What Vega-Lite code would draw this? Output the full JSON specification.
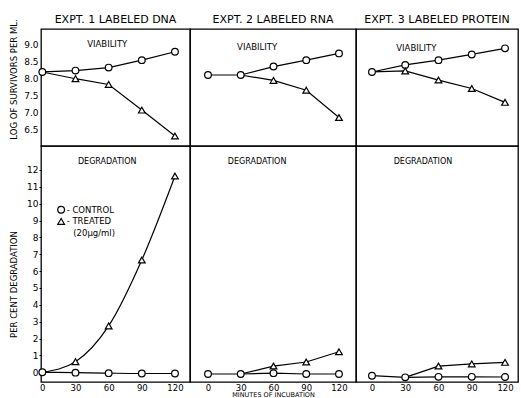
{
  "$schema": "https://vega.github.io/schema/vega-lite/v6.json",
  "padding": {"left": 8, "top": 10, "right": 2, "bottom": 0},
  "background": "white",
  "config": {
    "font": "DejaVu Sans",
    "view": {"stroke": "black", "strokeWidth": 1.3},
    "axis": {"domain": false, "grid": false, "labelColor": "black", "titleColor": "black", "tickColor": "black", "labelFontSize": 9, "titleFontSize": 8.5, "titleFontWeight": "normal", "labelFont": "DejaVu Sans", "titleFont": "DejaVu Sans"}
  },
  "datasets": {
    "rows": [
      {"kind": "head", "expt": 1, "text": "EXPT. 1 LABELED DNA"},
      {"kind": "head", "expt": 2, "text": "EXPT. 2 LABELED RNA"},
      {"kind": "head", "expt": 3, "text": "EXPT. 3 LABELED PROTEIN"},

      {"kind": "d", "expt": 1, "panel": "v", "series": "Control", "min": 0, "val": 8.2, "mk": true},
      {"kind": "d", "expt": 1, "panel": "v", "series": "Control", "min": 30, "val": 8.24, "mk": true},
      {"kind": "d", "expt": 1, "panel": "v", "series": "Control", "min": 60, "val": 8.33, "mk": true},
      {"kind": "d", "expt": 1, "panel": "v", "series": "Control", "min": 90, "val": 8.55, "mk": true},
      {"kind": "d", "expt": 1, "panel": "v", "series": "Control", "min": 120, "val": 8.8, "mk": true},
      {"kind": "d", "expt": 1, "panel": "v", "series": "Treated", "min": 0, "val": 8.2, "mk": false},
      {"kind": "d", "expt": 1, "panel": "v", "series": "Treated", "min": 30, "val": 8.0, "mk": true},
      {"kind": "d", "expt": 1, "panel": "v", "series": "Treated", "min": 60, "val": 7.83, "mk": true},
      {"kind": "d", "expt": 1, "panel": "v", "series": "Treated", "min": 90, "val": 7.07, "mk": true},
      {"kind": "d", "expt": 1, "panel": "v", "series": "Treated", "min": 120, "val": 6.3, "mk": true},

      {"kind": "d", "expt": 2, "panel": "v", "series": "Control", "min": 0, "val": 8.11, "mk": true},
      {"kind": "d", "expt": 2, "panel": "v", "series": "Control", "min": 30, "val": 8.11, "mk": true},
      {"kind": "d", "expt": 2, "panel": "v", "series": "Control", "min": 60, "val": 8.36, "mk": true},
      {"kind": "d", "expt": 2, "panel": "v", "series": "Control", "min": 90, "val": 8.55, "mk": true},
      {"kind": "d", "expt": 2, "panel": "v", "series": "Control", "min": 120, "val": 8.75, "mk": true},
      {"kind": "d", "expt": 2, "panel": "v", "series": "Treated", "min": 30, "val": 8.11, "mk": false},
      {"kind": "d", "expt": 2, "panel": "v", "series": "Treated", "min": 60, "val": 7.95, "mk": true},
      {"kind": "d", "expt": 2, "panel": "v", "series": "Treated", "min": 90, "val": 7.66, "mk": true},
      {"kind": "d", "expt": 2, "panel": "v", "series": "Treated", "min": 120, "val": 6.85, "mk": true},

      {"kind": "d", "expt": 3, "panel": "v", "series": "Control", "min": 0, "val": 8.2, "mk": true},
      {"kind": "d", "expt": 3, "panel": "v", "series": "Control", "min": 30, "val": 8.41, "mk": true},
      {"kind": "d", "expt": 3, "panel": "v", "series": "Control", "min": 60, "val": 8.55, "mk": true},
      {"kind": "d", "expt": 3, "panel": "v", "series": "Control", "min": 90, "val": 8.72, "mk": true},
      {"kind": "d", "expt": 3, "panel": "v", "series": "Control", "min": 120, "val": 8.9, "mk": true},
      {"kind": "d", "expt": 3, "panel": "v", "series": "Treated", "min": 0, "val": 8.2, "mk": false},
      {"kind": "d", "expt": 3, "panel": "v", "series": "Treated", "min": 30, "val": 8.23, "mk": true},
      {"kind": "d", "expt": 3, "panel": "v", "series": "Treated", "min": 60, "val": 7.96, "mk": true},
      {"kind": "d", "expt": 3, "panel": "v", "series": "Treated", "min": 90, "val": 7.71, "mk": true},
      {"kind": "d", "expt": 3, "panel": "v", "series": "Treated", "min": 120, "val": 7.3, "mk": true},

      {"kind": "d", "expt": 1, "panel": "d", "series": "Control", "min": 0, "val": 0.0, "mk": true},
      {"kind": "d", "expt": 1, "panel": "d", "series": "Control", "min": 30, "val": -0.02, "mk": true},
      {"kind": "d", "expt": 1, "panel": "d", "series": "Control", "min": 60, "val": -0.05, "mk": true},
      {"kind": "d", "expt": 1, "panel": "d", "series": "Control", "min": 90, "val": -0.07, "mk": true},
      {"kind": "d", "expt": 1, "panel": "d", "series": "Control", "min": 120, "val": -0.07, "mk": true},
      {"kind": "d", "expt": 1, "panel": "d", "series": "Treated", "min": 0, "val": 0.0, "mk": false},
      {"kind": "d", "expt": 1, "panel": "d", "series": "Treated", "min": 30, "val": 0.63, "mk": true},
      {"kind": "d", "expt": 1, "panel": "d", "series": "Treated", "min": 60, "val": 2.75, "mk": true},
      {"kind": "d", "expt": 1, "panel": "d", "series": "Treated", "min": 90, "val": 6.66, "mk": true},
      {"kind": "d", "expt": 1, "panel": "d", "series": "Treated", "min": 120, "val": 11.64, "mk": true},

      {"kind": "d", "expt": 2, "panel": "d", "series": "Control", "min": 0, "val": -0.1, "mk": true},
      {"kind": "d", "expt": 2, "panel": "d", "series": "Control", "min": 30, "val": -0.1, "mk": true},
      {"kind": "d", "expt": 2, "panel": "d", "series": "Control", "min": 60, "val": -0.05, "mk": true},
      {"kind": "d", "expt": 2, "panel": "d", "series": "Control", "min": 90, "val": -0.1, "mk": true},
      {"kind": "d", "expt": 2, "panel": "d", "series": "Control", "min": 120, "val": -0.1, "mk": true},
      {"kind": "d", "expt": 2, "panel": "d", "series": "Treated", "min": 30, "val": -0.1, "mk": false},
      {"kind": "d", "expt": 2, "panel": "d", "series": "Treated", "min": 60, "val": 0.37, "mk": true},
      {"kind": "d", "expt": 2, "panel": "d", "series": "Treated", "min": 90, "val": 0.61, "mk": true},
      {"kind": "d", "expt": 2, "panel": "d", "series": "Treated", "min": 120, "val": 1.22, "mk": true},

      {"kind": "d", "expt": 3, "panel": "d", "series": "Control", "min": 0, "val": -0.2, "mk": true},
      {"kind": "d", "expt": 3, "panel": "d", "series": "Control", "min": 30, "val": -0.3, "mk": true},
      {"kind": "d", "expt": 3, "panel": "d", "series": "Control", "min": 60, "val": -0.27, "mk": true},
      {"kind": "d", "expt": 3, "panel": "d", "series": "Control", "min": 90, "val": -0.27, "mk": true},
      {"kind": "d", "expt": 3, "panel": "d", "series": "Control", "min": 120, "val": -0.28, "mk": true},
      {"kind": "d", "expt": 3, "panel": "d", "series": "Treated", "min": 30, "val": -0.3, "mk": false},
      {"kind": "d", "expt": 3, "panel": "d", "series": "Treated", "min": 60, "val": 0.37, "mk": true},
      {"kind": "d", "expt": 3, "panel": "d", "series": "Treated", "min": 90, "val": 0.5, "mk": true},
      {"kind": "d", "expt": 3, "panel": "d", "series": "Treated", "min": 120, "val": 0.59, "mk": true},

      {"kind": "lab", "expt": 1, "panel": "v", "min": 58.7, "val": 9.03, "text": "VIABILITY"},
      {"kind": "lab", "expt": 2, "panel": "v", "min": 45, "val": 8.95, "text": "VIABILITY"},
      {"kind": "lab", "expt": 3, "panel": "v", "min": 40, "val": 8.9, "text": "VIABILITY"},
      {"kind": "lab", "expt": 1, "panel": "d", "min": 58.7, "val": 12.47, "text": "DEGRADATION"},
      {"kind": "lab", "expt": 2, "panel": "d", "min": 45, "val": 12.47, "text": "DEGRADATION"},
      {"kind": "lab", "expt": 3, "panel": "d", "min": 46, "val": 12.45, "text": "DEGRADATION"},

      {"kind": "leg", "expt": 1, "panel": "d", "series": "Control", "min": 17, "val": 9.64, "mk": true},
      {"kind": "leg", "expt": 1, "panel": "d", "series": "Treated", "min": 17, "val": 8.95, "mk": true},
      {"kind": "legt", "expt": 1, "panel": "d", "min": 22, "val": 9.64, "text": "- CONTROL"},
      {"kind": "legt", "expt": 1, "panel": "d", "min": 22, "val": 8.95, "text": "- TREATED"},
      {"kind": "legt", "expt": 1, "panel": "d", "min": 28, "val": 8.26, "text": "(20µg/ml)"}
    ]
  },
  "columns": 3,
  "align": "each",
  "bounds": "flush",
  "spacing": 0,
  "concat": [
    {"width": 149, "height": 19, "data": {"name": "rows"}, "transform": [{"filter": "datum.kind=='head' && datum.expt==1"}], "mark": {"type": "text", "fontSize": 11, "align": "center", "baseline": "middle"}, "encoding": {"text": {"field": "text"}}},
    {"width": 166, "height": 19, "data": {"name": "rows"}, "transform": [{"filter": "datum.kind=='head' && datum.expt==2"}], "mark": {"type": "text", "fontSize": 11, "align": "center", "baseline": "middle"}, "encoding": {"text": {"field": "text"}}},
    {"width": 162, "height": 19, "data": {"name": "rows"}, "transform": [{"filter": "datum.kind=='head' && datum.expt==3"}], "mark": {"type": "text", "fontSize": 11, "align": "center", "baseline": "middle"}, "encoding": {"text": {"field": "text"}}},

    {"width": 149, "height": 117, "data": {"name": "rows"}, "transform": [{"filter": "datum.expt==1 && datum.panel=='v'"}],
     "encoding": {
       "x": {"field": "min", "type": "quantitative", "scale": {"domain": [-1.2, 133.6], "nice": false, "zero": false}, "axis": null},
       "y": {"field": "val", "type": "quantitative", "scale": {"domain": [6.005, 9.474], "nice": false, "zero": false}, "axis": {"title": "LOG OF SURVIVORS PER ML.", "values": [6.5, 7, 7.5, 8, 8.5, 9], "format": ".1f", "tickSize": 0, "labelPadding": 3, "titleX": -23, "titleY": 50}}
     },
     "layer": [
       {"transform": [{"filter": "datum.kind=='d'"}], "mark": {"type": "line", "color": "black", "strokeWidth": 1.2}, "encoding": {"detail": {"field": "series"}}},
       {"transform": [{"filter": "datum.mk"}], "mark": {"type": "point", "filled": true, "fill": "white", "stroke": "black", "strokeWidth": 1.2, "size": 45, "opacity": 1}, "encoding": {"shape": {"field": "series", "scale": {"domain": ["Control", "Treated"], "range": ["circle", "triangle-up"]}, "legend": null}}},
       {"transform": [{"filter": "datum.kind=='lab'"}], "mark": {"type": "text", "fontSize": 8.5, "align": "center", "baseline": "middle"}, "encoding": {"text": {"field": "text"}}}
     ]},
    {"width": 166, "height": 117, "data": {"name": "rows"}, "transform": [{"filter": "datum.expt==2 && datum.panel=='v'"}],
     "encoding": {
       "x": {"field": "min", "type": "quantitative", "scale": {"domain": [-16.5, 135.6], "nice": false, "zero": false}, "axis": null},
       "y": {"field": "val", "type": "quantitative", "scale": {"domain": [6.005, 9.474], "nice": false, "zero": false}, "axis": null}
     },
     "layer": [
       {"transform": [{"filter": "datum.kind=='d'"}], "mark": {"type": "line", "color": "black", "strokeWidth": 1.2}, "encoding": {"detail": {"field": "series"}}},
       {"transform": [{"filter": "datum.mk"}], "mark": {"type": "point", "filled": true, "fill": "white", "stroke": "black", "strokeWidth": 1.2, "size": 45, "opacity": 1}, "encoding": {"shape": {"field": "series", "scale": {"domain": ["Control", "Treated"], "range": ["circle", "triangle-up"]}, "legend": null}}},
       {"transform": [{"filter": "datum.kind=='lab'"}], "mark": {"type": "text", "fontSize": 8.5, "align": "center", "baseline": "middle"}, "encoding": {"text": {"field": "text"}}}
     ]},
    {"width": 162, "height": 117, "data": {"name": "rows"}, "transform": [{"filter": "datum.expt==3 && datum.panel=='v'"}],
     "encoding": {
       "x": {"field": "min", "type": "quantitative", "scale": {"domain": [-14.4, 131.7], "nice": false, "zero": false}, "axis": null},
       "y": {"field": "val", "type": "quantitative", "scale": {"domain": [6.005, 9.474], "nice": false, "zero": false}, "axis": null}
     },
     "layer": [
       {"transform": [{"filter": "datum.kind=='d'"}], "mark": {"type": "line", "color": "black", "strokeWidth": 1.2}, "encoding": {"detail": {"field": "series"}}},
       {"transform": [{"filter": "datum.mk"}], "mark": {"type": "point", "filled": true, "fill": "white", "stroke": "black", "strokeWidth": 1.2, "size": 45, "opacity": 1}, "encoding": {"shape": {"field": "series", "scale": {"domain": ["Control", "Treated"], "range": ["circle", "triangle-up"]}, "legend": null}}},
       {"transform": [{"filter": "datum.kind=='lab'"}], "mark": {"type": "text", "fontSize": 8.5, "align": "center", "baseline": "middle"}, "encoding": {"text": {"field": "text"}}}
     ]},

    {"width": 149, "height": 236, "data": {"name": "rows"}, "transform": [{"filter": "datum.expt==1 && datum.panel=='d'"}],
     "encoding": {
       "x": {"field": "min", "type": "quantitative", "scale": {"domain": [-1.2, 133.6], "nice": false, "zero": false}, "axis": {"title": null, "values": [0, 30, 60, 90, 120], "tickSize": 0, "labelPadding": 1, "labelFontSize": 8.5}},
       "y": {"field": "val", "type": "quantitative", "scale": {"domain": [-0.575, 13.42], "nice": false, "zero": false}, "axis": {"title": "PER CENT DEGRADATION", "values": [0, 1, 2, 3, 4, 5, 6, 7, 8, 9, 10, 11, 12], "tickSize": 2, "labelPadding": 1, "titleX": -23, "titleY": 138}}
     },
     "layer": [
       {"transform": [{"filter": "datum.kind=='d'"}], "mark": {"type": "line", "color": "black", "strokeWidth": 1.2, "interpolate": "monotone"}, "encoding": {"detail": {"field": "series"}}},
       {"transform": [{"filter": "datum.mk"}], "mark": {"type": "point", "filled": true, "fill": "white", "stroke": "black", "strokeWidth": 1.2, "size": 45, "opacity": 1}, "encoding": {"shape": {"field": "series", "scale": {"domain": ["Control", "Treated"], "range": ["circle", "triangle-up"]}, "legend": null}}},
       {"transform": [{"filter": "datum.kind=='lab'"}], "mark": {"type": "text", "fontSize": 8, "align": "center", "baseline": "middle"}, "encoding": {"text": {"field": "text"}}},
       {"transform": [{"filter": "datum.kind=='legt'"}], "mark": {"type": "text", "fontSize": 8.5, "align": "left", "baseline": "middle"}, "encoding": {"text": {"field": "text"}}}
     ]},
    {"width": 166, "height": 236, "data": {"name": "rows"}, "transform": [{"filter": "datum.expt==2 && datum.panel=='d'"}],
     "encoding": {
       "x": {"field": "min", "type": "quantitative", "scale": {"domain": [-16.5, 135.6], "nice": false, "zero": false}, "axis": {"title": "MINUTES OF INCUBATION", "titleFontSize": 6.5, "values": [0, 30, 60, 90, 120], "tickSize": 0, "labelPadding": 1, "labelFontSize": 8.5, "titlePadding": 0}},
       "y": {"field": "val", "type": "quantitative", "scale": {"domain": [-0.575, 13.42], "nice": false, "zero": false}, "axis": null}
     },
     "layer": [
       {"transform": [{"filter": "datum.kind=='d'"}], "mark": {"type": "line", "color": "black", "strokeWidth": 1.2}, "encoding": {"detail": {"field": "series"}}},
       {"transform": [{"filter": "datum.mk"}], "mark": {"type": "point", "filled": true, "fill": "white", "stroke": "black", "strokeWidth": 1.2, "size": 45, "opacity": 1}, "encoding": {"shape": {"field": "series", "scale": {"domain": ["Control", "Treated"], "range": ["circle", "triangle-up"]}, "legend": null}}},
       {"transform": [{"filter": "datum.kind=='lab'"}], "mark": {"type": "text", "fontSize": 8, "align": "center", "baseline": "middle"}, "encoding": {"text": {"field": "text"}}}
     ]},
    {"width": 162, "height": 236, "data": {"name": "rows"}, "transform": [{"filter": "datum.expt==3 && datum.panel=='d'"}],
     "encoding": {
       "x": {"field": "min", "type": "quantitative", "scale": {"domain": [-14.4, 131.7], "nice": false, "zero": false}, "axis": {"title": null, "values": [0, 30, 60, 90, 120], "tickSize": 0, "labelPadding": 1, "labelFontSize": 8.5}},
       "y": {"field": "val", "type": "quantitative", "scale": {"domain": [-0.575, 13.42], "nice": false, "zero": false}, "axis": null}
     },
     "layer": [
       {"transform": [{"filter": "datum.kind=='d'"}], "mark": {"type": "line", "color": "black", "strokeWidth": 1.2}, "encoding": {"detail": {"field": "series"}}},
       {"transform": [{"filter": "datum.mk"}], "mark": {"type": "point", "filled": true, "fill": "white", "stroke": "black", "strokeWidth": 1.2, "size": 45, "opacity": 1}, "encoding": {"shape": {"field": "series", "scale": {"domain": ["Control", "Treated"], "range": ["circle", "triangle-up"]}, "legend": null}}},
       {"transform": [{"filter": "datum.kind=='lab'"}], "mark": {"type": "text", "fontSize": 8, "align": "center", "baseline": "middle"}, "encoding": {"text": {"field": "text"}}}
     ]}
  ]
}
